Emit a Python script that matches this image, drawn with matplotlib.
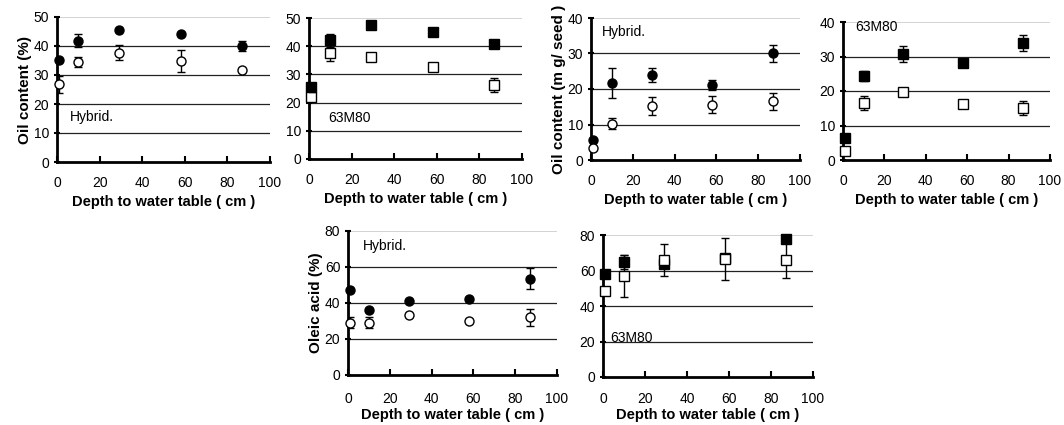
import matplotlib.pyplot as plt

plt.rcParams['font.family'] = ['Liberation Sans', 'DejaVu Sans']

# Depth to water table (cm)
depth = [1, 10, 29, 58, 87]

# Oil content (%) - Hybrid
hyb_oil_fill = [35, 41.8, 45.4, 44, 40]
hyb_oil_fill_err = [0, 2.3, 0, 0, 1.7]
hyb_oil_open = [26.8, 34.4, 37.7, 34.8, 31.6]
hyb_oil_open_err = [3, 1.7, 2.5, 3.7, 0]

# Oil content (%) - 63M80
m80_oil_fill = [25.6, 42.1, 47.6, 45, 40.9]
m80_oil_fill_err = [0, 2.3, 0, 0, 0]
m80_oil_open = [22.1, 37.6, 36, 32.7, 26.2]
m80_oil_open_err = [0, 2.8, 0, 0, 2.6]

# Oil content (mg/seed) - Hybrid
hyb_mg_fill = [5.7, 21.7, 24, 21.2, 30]
hyb_mg_fill_err = [0, 4.2, 2, 1.4, 2.5]
hyb_mg_open = [3.3, 10.2, 15.3, 15.6, 16.5]
hyb_mg_open_err = [0, 1.6, 2.5, 2.5, 2.3]

# Oil content (mg/seed) - 63M80
m80_mg_fill = [6.3, 24.3, 30.8, 28.2, 34]
m80_mg_fill_err = [0, 1.4, 2.3, 0, 2.3]
m80_mg_open = [2.7, 16.5, 19.7, 16.3, 15]
m80_mg_open_err = [0, 2, 0, 0, 2]

# Oleic acid (%) - Hybrid
hyb_ole_fill = [47.1, 36, 41.2, 42, 53.6]
hyb_ole_fill_err = [0, 0, 0, 0, 6]
hyb_ole_open = [29, 29, 33.3, 30.1, 32]
hyb_ole_open_err = [3, 3, 0, 0, 4.7]

# Oleic acid (%) - 63M80
m80_ole_fill = [58, 65, 63.7, 66.9, 77.8]
m80_ole_fill_err = [0, 4, 0, 0, 0]
m80_ole_open = [48.4, 56.9, 66, 66.5, 66]
m80_ole_open_err = [0, 12, 9, 11.7, 10.5]

W, H = 1064, 425
fig = plt.figure(figsize=(W / 100, H / 100), dpi=100)


def make_ax(l, r, t, b):
    return fig.add_axes([l / W, 1 - b / H, (r - l) / W, (b - t) / H])


def style(ax, ymax, ystep, ylabel=None, xpad=10, lpad=4):
    ax.set_xlim(0, 100)
    ax.set_ylim(0, ymax)
    ax.set_xticks(range(0, 101, 20))
    ax.set_yticks(range(0, ymax + 1, ystep))
    for v in range(ystep, ymax, ystep):
        ax.axhline(v, color='#222222', lw=0.9, zorder=1)
    ax.axhline(ymax, color='#cccccc', lw=1.2, zorder=1)
    for s in ['top', 'right']:
        ax.spines[s].set_visible(False)
    for s in ['left', 'bottom']:
        ax.spines[s].set_linewidth(2)
    ax.tick_params(axis='x', direction='in', length=4, width=1.5, labelsize=10, pad=xpad)
    ax.tick_params(axis='y', direction='inout', length=5, width=1.5, labelsize=10, pad=3)
    ax.set_xlabel('Depth to water table ( cm )', fontweight='bold', fontsize=10.5, labelpad=lpad)
    if ylabel:
        ax.set_ylabel(ylabel, fontweight='bold', fontsize=11, labelpad=1)


def series(ax, y, err, marker, fill):
    ax.errorbar(depth, y, yerr=err, fmt='none', ecolor='black', elinewidth=1,
                capsize=3, capthick=1, zorder=2)
    ax.plot(depth, y, linestyle='none', marker=marker, ms=6.5,
            markerfacecolor='black' if fill else 'white',
            markeredgecolor='black', markeredgewidth=1, zorder=3, clip_on=False)


# panel 1
ax = make_ax(57, 270, 17, 162)
style(ax, 50, 10, 'Oil content (%)')
series(ax, hyb_oil_fill, hyb_oil_fill_err, 'o', True)
series(ax, hyb_oil_open, hyb_oil_open_err, 'o', False)
ax.text(6, 15.5, 'Hybrid.', fontsize=10, va='center')

# panel 2
ax = make_ax(309, 522, 18, 159)
style(ax, 50, 10)
series(ax, m80_oil_fill, m80_oil_fill_err, 's', True)
series(ax, m80_oil_open, m80_oil_open_err, 's', False)
ax.plot(depth[0], m80_oil_fill[0], linestyle='none', marker='^', ms=6.5, color='black', zorder=4)
ax.text(9, 14.5, '63M80', fontsize=10, va='center')

# panel 3
ax = make_ax(591, 800, 18, 160)
style(ax, 40, 10, 'Oil content (m g/ seed )')
series(ax, hyb_mg_fill, hyb_mg_fill_err, 'o', True)
series(ax, hyb_mg_open, hyb_mg_open_err, 'o', False)
ax.text(5, 36, 'Hybrid.', fontsize=10, va='center')

# panel 4
ax = make_ax(843, 1050, 22, 160)
style(ax, 40, 10)
series(ax, m80_mg_fill, m80_mg_fill_err, 's', True)
series(ax, m80_mg_open, m80_mg_open_err, 's', False)
ax.text(6, 38.5, '63M80', fontsize=10, va='center')

# panel 5
ax = make_ax(348, 557, 231, 375)
style(ax, 80, 20, 'Oleic acid (%)', xpad=12, lpad=2)
series(ax, hyb_ole_fill, hyb_ole_fill_err, 'o', True)
series(ax, hyb_ole_open, hyb_ole_open_err, 'o', False)
ax.text(7, 71.7, 'Hybrid.', fontsize=10, va='center')

# panel 6
ax = make_ax(603, 813, 235, 377)
style(ax, 80, 20, xpad=11, lpad=1)
series(ax, m80_ole_fill, m80_ole_fill_err, 's', True)
series(ax, m80_ole_open, m80_ole_open_err, 's', False)
ax.text(3.5, 22, '63M80', fontsize=10, va='center')

fig.savefig('out.png', dpi=100, facecolor='white')
